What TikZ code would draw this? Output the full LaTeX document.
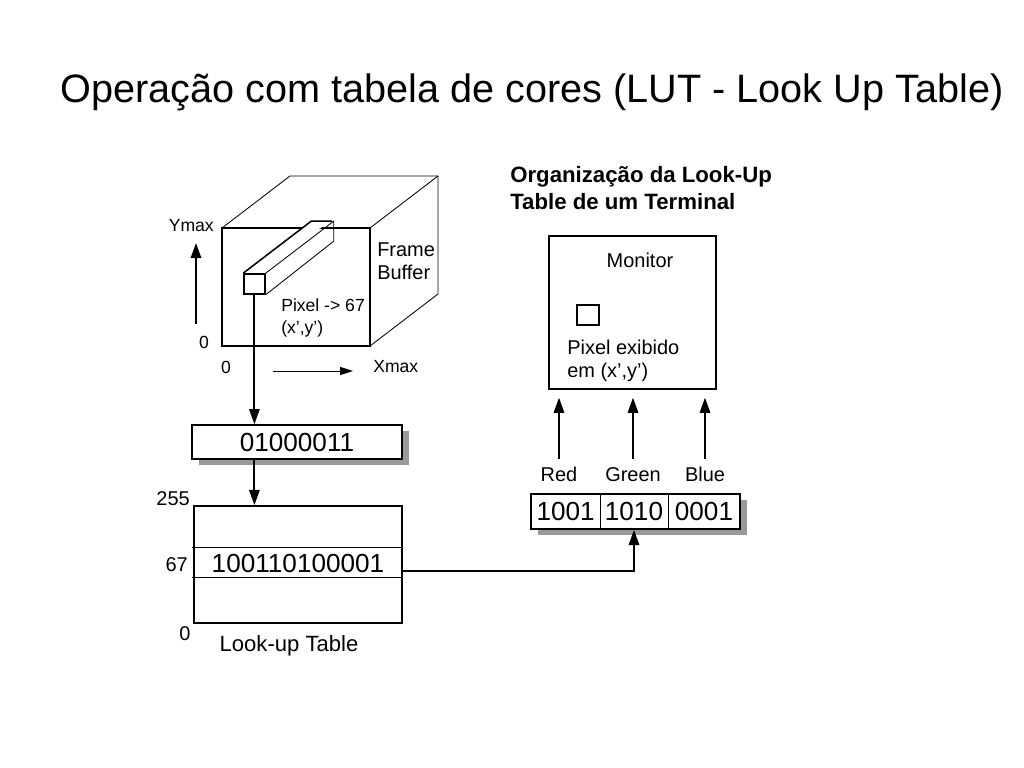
\documentclass[tikz,border=0pt]{standalone}
\usepackage{fontspec}
\setmainfont{Liberation Sans}
\usetikzlibrary{shapes,arrows,arrows.meta,shadows}
\tikzstyle{box} = [rectangle, draw, line width=1.1pt, fill=white, inner sep=0pt]
\tikzstyle{shadowbox} = [box, drop shadow={shadow xshift=0.17cm, shadow yshift=-0.15cm, fill=black!40, opacity=1}]
\tikzstyle{line} = [draw, line width=1.3pt, -{Triangle[length=0.38cm, width=0.26cm]}]
\tikzstyle{thinline} = [draw, line width=0.7pt, -{Triangle[length=0.32cm, width=0.2cm]}]
\tikzstyle{edge} = [draw, line width=0.6pt]
\tikzstyle{txt} = [font=\fontsize{14.2}{16.3}\selectfont, align=left, inner sep=0pt]
\tikzstyle{small} = [font=\fontsize{12.5}{15.8}\selectfont, align=left, inner sep=0pt]
\tikzstyle{num} = [font=\fontsize{18.6}{20}\selectfont, inner sep=0pt]

\begin{document}
\begin{tikzpicture}
\useasboundingbox (0,0) rectangle (25.6,-19.2);
\node [font=\fontsize{28.2}{32}\selectfont] (title) at (13.3,-2.3) {Operação com tabela de cores (LUT - Look Up Table)};
\node [txt, font=\fontsize{15.8}{19.1}\selectfont\bfseries, anchor=west] (heading) at (12.75,-4.71) {Organização da Look-Up\\Table de um Terminal};
% frame buffer
\draw [edge] (5.55,-5.7) -- (7.25,-4.4) -- (10.95,-4.4) -- (10.95,-7.35) -- (9.25,-8.65);
\draw [edge] (9.25,-5.7) -- (10.95,-4.4);
\node [box, fill=none, minimum width=3.7cm, minimum height=2.95cm] (fb) at (7.4,-7.175) {};
\node [box, minimum width=0.525cm, minimum height=0.5cm] (pix) at (6.36,-7.1) {};
\draw [box] (pix.north west) -- ++(1.7,1.3) -- ++(0.525,0);
\draw [edge] (pix.north east) -- ++(1.7,1.3) -- ++(0,-0.5) -- (pix.south east);
\node [txt, anchor=west] (fblabel) at (9.425,-6.54) {Frame\\Buffer};
\node [small, anchor=west] (pixlabel) at (7.025,-7.95) {Pixel -> 67\\(x’,y’)};
% axes
\coordinate (y0) at (4.9,-8.1);
\coordinate (y1) at (4.9,-6.075);
\coordinate (x0) at (6.825,-9.275);
\coordinate (x1) at (8.825,-9.275);
\path [line] (y0) -- (y1);
\path [thinline] (x0) -- (x1);
\node [small, anchor=east] (ymax) at (5.35,-5.65) {Ymax};
\node [small] (yzero) at (5.1,-8.55) {0};
\node [small] (xzero) at (5.65,-9.175) {0};
\node [small, anchor=west] (xmax) at (9.325,-9.175) {Xmax};
% index and look-up table
\node [shadowbox, minimum width=5.25cm, minimum height=0.85cm, num] (idx) at (7.425,-11.05) {01000011};
\path [line] (pix) -- (pix |- idx.north);
\node [box, minimum width=5.2cm, minimum height=2.925cm] (lut) at (7.45,-14.11) {};
\draw [edge] (4.8,-13.675) -- (lut.east |- 0,-13.675);
\draw [edge] (4.8,-14.425) -- (lut.east |- 0,-14.425);
\node [num] (entry) at (7.45,-14.075) {100110100001};
\path [line] (pix |- idx.south) -- (pix |- lut.north);
\node [txt, anchor=east] (top) at (4.75,-12.475) {255};
\node [txt, anchor=east] (row) at (4.7,-14.125) {67};
\node [txt] (bottom) at (4.625,-15.85) {0};
\node [txt, font=\fontsize{15.7}{18}\selectfont] (lutlabel) at (7.225,-16.15) {Look-up Table};
% monitor
\node [box, minimum width=4.175cm, minimum height=3.825cm] (monitor) at (15.81,-7.81) {};
\node [txt] (montitle) at (16.0,-6.5) {Monitor};
\node [box, line width=0.9pt, minimum width=0.55cm, minimum height=0.5cm] (dot) at (14.7,-7.875) {};
\node [txt, anchor=west] (dotlabel) at (14.175,-9.025) {Pixel exibido\\em (x’,y’)};
% register
\node [shadowbox, minimum width=5.225cm, minimum height=0.875cm] (reg) at (15.89,-12.79) {};
\node [num] (red) at (14.14,-12.79) {1001};
\node [num] (green) at (15.85,-12.79) {1010};
\node [num] (blue) at (17.6,-12.79) {0001};
\draw [edge] (15.0,-12.35) -- (15.0,-13.225);
\draw [edge] (16.7,-12.35) -- (16.7,-13.225);
\node [txt, anchor=base] (rlabel) at (13.975,-12.025) {Red};
\node [txt, anchor=base] (glabel) at (15.825,-12.025) {Green};
\node [txt, anchor=base] (blabel) at (17.625,-12.025) {Blue};
\path [line] ([yshift=0.55cm]rlabel.base) -- ([yshift=-0.2cm]rlabel.base |- monitor.south);
\path [line] ([yshift=0.55cm]glabel.base) -- ([yshift=-0.2cm]glabel.base |- monitor.south);
\path [line] ([yshift=0.55cm]blabel.base) -- ([yshift=-0.2cm]blabel.base |- monitor.south);
\path [line] ([yshift=-0.165cm]lut.east) -| (green.south |- reg.south);
\end{tikzpicture}
\end{document}
